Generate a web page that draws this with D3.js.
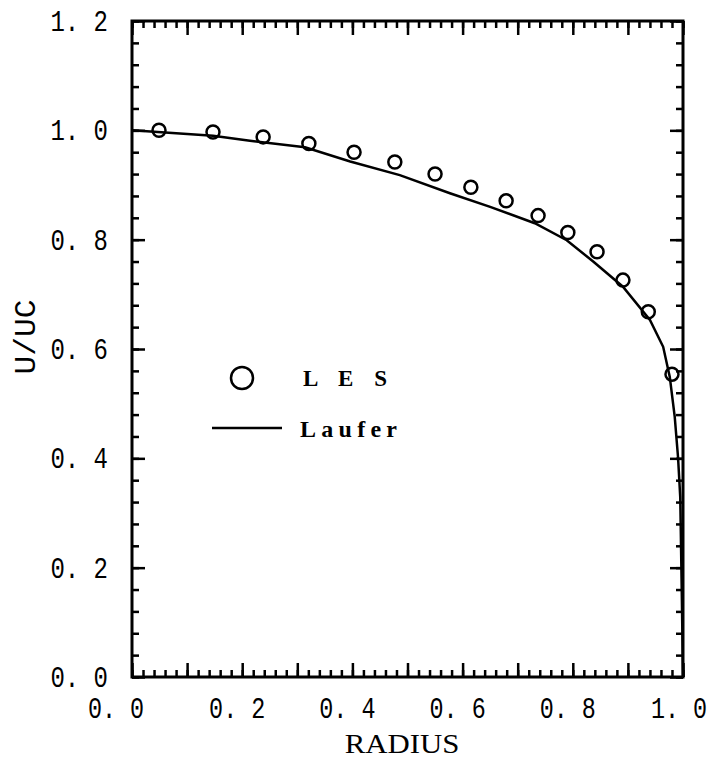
<!DOCTYPE html>
<html>
<head>
<meta charset="utf-8">
<script src="https://cdn.jsdelivr.net/npm/d3@7/dist/d3.min.js"></script>
<style>
  body { margin: 0; background: #fff; }
  .tick-label { font-family: "Liberation Mono", monospace; font-size: 30px; fill: #000; }
</style>
</head>
<body>
<div id="wrapper"></div>
<script>
// LES points (circles)
const lesRadius = [0.049, 0.147, 0.238, 0.321, 0.403, 0.477, 0.550, 0.615, 0.679, 0.737, 0.791, 0.844, 0.891, 0.937, 0.980];
const lesVelocity = [1.000, 0.997, 0.988, 0.976, 0.960, 0.942, 0.920, 0.896, 0.871, 0.844, 0.813, 0.778, 0.726, 0.668, 0.554];

// Laufer measurements (solid line)
const lauferRadius = [0.0, 0.147, 0.214, 0.314, 0.396, 0.486, 0.577, 0.650, 0.731, 0.789, 0.837, 0.891, 0.940, 0.964, 0.976, 0.985, 0.991, 0.995, 0.998, 1.0];
const lauferVelocity = [1.000, 0.990, 0.981, 0.969, 0.943, 0.918, 0.885, 0.860, 0.830, 0.799, 0.760, 0.714, 0.653, 0.604, 0.549, 0.476, 0.402, 0.329, 0.141, 0.0];

// tick labels
const xTickValues = [0, 0.2, 0.4, 0.6, 0.8, 1.0];
const xTickLabels = ["0. 0", "0. 2", "0. 4", "0. 6", "0. 8", "1. 0"];
const yTickValues = [0, 0.2, 0.4, 0.6, 0.8, 1.0, 1.2];
const yTickLabels = ["0. 0", "0. 2", "0. 4", "0. 6", "0. 8", "1. 0", "1. 2"];

function drawProfileChart() {
  const lesData = lesRadius.map((r, i) => ({ r, u: lesVelocity[i] }));
  const lauferData = lauferRadius.map((r, i) => ({ r, u: lauferVelocity[i] }));

  const xAccessor = d => d.r;
  const yAccessor = d => d.u;

  let dimensions = {
    width: 712,
    height: 760,
    margin: { top: 21, right: 29, bottom: 83, left: 132 },
  };
  dimensions.boundedWidth = dimensions.width - dimensions.margin.left - dimensions.margin.right;
  dimensions.boundedHeight = dimensions.height - dimensions.margin.top - dimensions.margin.bottom;

  const wrapper = d3.select("#wrapper")
    .append("svg")
    .attr("width", dimensions.width)
    .attr("height", dimensions.height);

  const bounds = wrapper.append("g")
    .attr("transform", `translate(${dimensions.margin.left}, ${dimensions.margin.top})`);

  const xScale = d3.scaleLinear()
    .domain([0, 1.0])
    .range([0, dimensions.boundedWidth]);

  const yScale = d3.scaleLinear()
    .domain([0, 1.2])
    .range([dimensions.boundedHeight, 0]);

  // frame
  bounds.append("rect")
    .attr("width", dimensions.boundedWidth)
    .attr("height", dimensions.boundedHeight)
    .attr("fill", "none")
    .attr("stroke", "#000")
    .attr("stroke-width", 3);

  // inward ticks on all four sides, via d3 axes
  const xMinor = d3.range(0, 51).map(i => i * 0.02);
  const xMajor = d3.range(0, 11).map(i => i * 0.1);
  const yMinor = d3.range(0, 31).map(i => i * 0.04);
  const yMajor = yTickValues;

  const addTicks = (axis, values, size, transform) => {
    const g = bounds.append("g")
      .attr("transform", transform)
      .call(axis.tickValues(values).tickSizeInner(-size).tickSizeOuter(0).tickFormat(() => ""));
    g.select(".domain").remove();
    g.selectAll(".tick text").remove();
    g.selectAll(".tick line")
      .attr("stroke", "#000")
      .attr("stroke-width", 2.5);
  };

  addTicks(d3.axisBottom(xScale), xMinor, 7, `translate(0, ${dimensions.boundedHeight})`);
  addTicks(d3.axisBottom(xScale), xMajor, 14, `translate(0, ${dimensions.boundedHeight})`);
  addTicks(d3.axisTop(xScale), xMinor, 7, "translate(0, 0)");
  addTicks(d3.axisTop(xScale), xMajor, 14, "translate(0, 0)");
  addTicks(d3.axisLeft(yScale), yMinor, 7, "translate(0, 0)");
  addTicks(d3.axisLeft(yScale), yMajor, 13, "translate(0, 0)");
  addTicks(d3.axisRight(yScale), yMinor, 7, `translate(${dimensions.boundedWidth}, 0)`);
  addTicks(d3.axisRight(yScale), yMajor, 13, `translate(${dimensions.boundedWidth}, 0)`);

  // tick labels (horizontally condensed)
  const xLabelShift = [-16, -5, -5, -5, -5, -4];
  bounds.selectAll(".x-label")
    .data(xTickValues)
    .enter()
    .append("text")
    .attr("class", "tick-label")
    .attr("transform", (d, i) => `translate(${xScale(d) + xLabelShift[i]}, ${dimensions.boundedHeight + 41}) scale(0.78, 1)`)
    .attr("text-anchor", "middle")
    .text((d, i) => xTickLabels[i]);

  bounds.selectAll(".y-label")
    .data(yTickValues)
    .enter()
    .append("text")
    .attr("class", "tick-label")
    .attr("transform", d => `translate(-24, ${yScale(d) + 10}) scale(0.8, 1)`)
    .attr("text-anchor", "end")
    .text((d, i) => yTickLabels[i]);

  // axis titles
  bounds.append("text")
    .attr("transform", `translate(${402 - dimensions.margin.left}, ${dimensions.boundedHeight + 76}) scale(1.1, 1)`)
    .attr("text-anchor", "middle")
    .style("font-family", "'Liberation Serif', serif")
    .style("font-size", "28px")
    .text("RADIUS");

  bounds.append("text")
    .attr("transform", `translate(${35 - dimensions.margin.left}, ${337 - dimensions.margin.top}) rotate(-90) scale(1.04, 1)`)
    .attr("text-anchor", "middle")
    .attr("class", "tick-label")
    .text("U/UC");

  // Laufer line
  const lineGenerator = d3.line()
    .x(d => xScale(xAccessor(d)))
    .y(d => yScale(yAccessor(d)));

  bounds.append("path")
    .attr("d", lineGenerator(lauferData))
    .attr("fill", "none")
    .attr("stroke", "#000")
    .attr("stroke-width", 2.5);

  // LES circles
  bounds.selectAll(".les")
    .data(lesData)
    .enter()
    .append("circle")
    .attr("class", "les")
    .attr("cx", d => xScale(xAccessor(d)))
    .attr("cy", d => yScale(yAccessor(d)))
    .attr("r", 6.5)
    .attr("fill", "none")
    .attr("stroke", "#000")
    .attr("stroke-width", 2.5);

  // legend
  const legend = bounds.append("g")
    .attr("transform", `translate(${212 - dimensions.margin.left}, ${378 - dimensions.margin.top})`);

  legend.append("circle")
    .attr("cx", 30)
    .attr("cy", 0)
    .attr("r", 11)
    .attr("fill", "none")
    .attr("stroke", "#000")
    .attr("stroke-width", 2.5);

  legend.append("text")
    .attr("x", 91)
    .attr("y", 8)
    .style("font-family", "'Liberation Serif', serif")
    .style("font-weight", "bold")
    .style("font-size", "23px")
    .attr("textLength", 84)
    .attr("lengthAdjust", "spacing")
    .text("L E S");

  legend.append("line")
    .attr("x1", 0)
    .attr("x2", 70)
    .attr("y1", 50)
    .attr("y2", 50)
    .attr("stroke", "#000")
    .attr("stroke-width", 2.5);

  legend.append("text")
    .attr("x", 88)
    .attr("y", 59)
    .style("font-family", "'Liberation Serif', serif")
    .style("font-weight", "bold")
    .style("font-size", "24px")
    .attr("textLength", 97)
    .attr("lengthAdjust", "spacing")
    .text("Laufer");
}

drawProfileChart();
</script>
</body>
</html>
